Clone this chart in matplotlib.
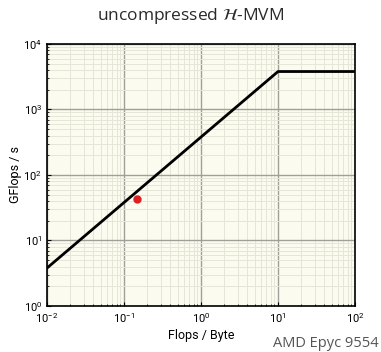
import numpy as np
import matplotlib
matplotlib.use('Agg')
from matplotlib import pyplot as plt
from matplotlib.ticker import LogLocator, NullFormatter

# roofline: memory bandwidth (GB/s) and peak (GFlops/s)
bandwidth = 380.0
peak = 3800.0
intensity = [0.01, 10.0, 100.0]
roof = [min(peak, bandwidth * i) for i in intensity]

# measured kernel
point_x = [0.148]
point_y = [43.0]

fig = plt.figure(figsize=(3.81, 3.52), dpi=100)
ax = fig.add_axes([0.1234, 0.1307, 0.8084, 0.7443])
ax.set_facecolor('#fcfbf0')

ax.set_xscale('log')
ax.set_yscale('log')
ax.set_xlim(1e-2, 1e2)
ax.set_ylim(1e0, 1e4)

ax.xaxis.set_minor_locator(LogLocator(base=10, subs=np.arange(2, 10)))
ax.yaxis.set_minor_locator(LogLocator(base=10, subs=np.arange(2, 10)))
ax.xaxis.set_minor_formatter(NullFormatter())
ax.yaxis.set_minor_formatter(NullFormatter())

ax.grid(which='major', color='#a0a098', lw=1.0)
ax.grid(which='minor', color='#e6e6d8', lw=0.7)
ax.set_axisbelow(True)

ax.plot(intensity, roof, color='black', lw=2, zorder=3)
ax.plot(point_x, point_y, 'o', color='#e02020', ms=5, zorder=4)

ax.tick_params(which='major', labelsize=8, length=3, direction='in')
ax.tick_params(which='minor', length=1.5, direction='in')
for s in ax.spines.values():
    s.set_linewidth(1.2)

ax.set_xlabel('Flops / Byte', fontsize=9, family='Roboto', labelpad=3)
ax.set_ylabel('GFlops / s', fontsize=9, family='Roboto', labelpad=1)
for lab in ax.get_xticklabels() + ax.get_yticklabels():
    lab.set_family('Roboto')

fig.text(0.5, 0.955, r'uncompressed $\mathcal{H}$-MVM', ha='center', va='center',
         fontsize=12.5, color='#2a2a2a', family='Open Sans')
fig.text(0.995, 0.025, 'AMD Epyc 9554', ha='right', va='center',
         fontsize=10.5, color='#555555', family='Open Sans')

fig.savefig('out.png', dpi=100)
